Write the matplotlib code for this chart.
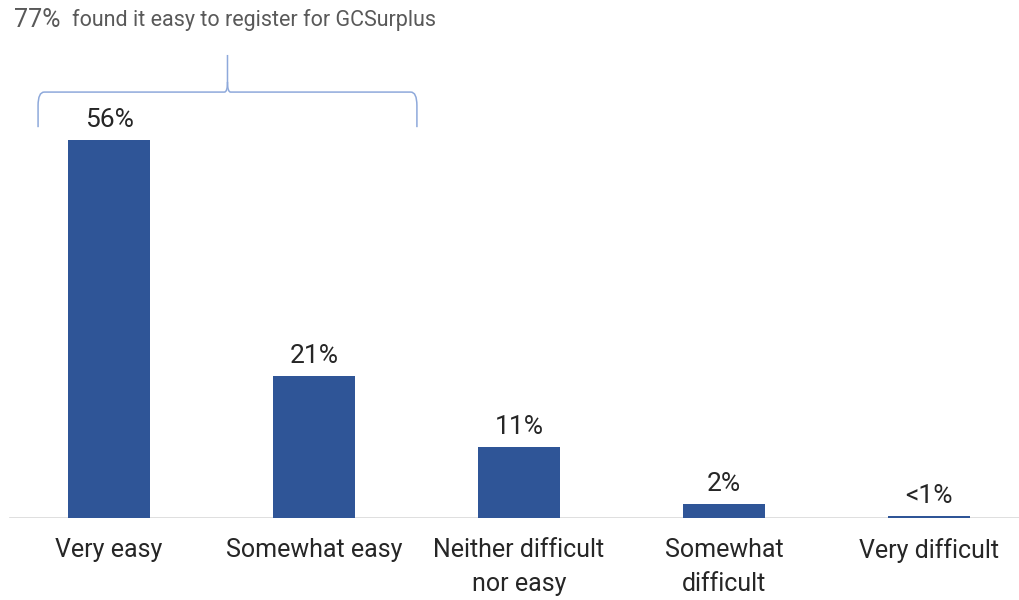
import matplotlib
matplotlib.use("Agg")
import matplotlib.pyplot as plt
import numpy as np
from matplotlib.path import Path
from matplotlib.patches import PathPatch

categories = ["Very easy", "Somewhat easy", "Neither difficult\nnor easy", "Somewhat\ndifficult", "Very difficult"]
values = [56, 21, 10.5, 2.1, 0.25]
value_labels = ["56%", "21%", "11%", "2%", "<1%"]
summary_pct = "77%"
summary_text = "found it easy to register for GCSurplus"

plt.rcParams['font.family'] = ['Roboto', 'DejaVu Sans']

fig = plt.figure(figsize=(10.19, 6.0), dpi=100)
ax = fig.add_axes([0, 82/600, 1, 518/600])
x = np.arange(len(categories))
bars = ax.bar(x, values, width=0.4, color="#2f5597", zorder=3)
ax.set_xlim(-109/205, (1019-109)/205)
ax.set_ylim(0, 518/6.75)
for s in ax.spines.values():
    s.set_visible(False)
ax.set_yticks([])
ax.set_xticks([])
ax.axhline(0, xmin=10/1019, xmax=1, color="#d9d9d9", lw=1.2, zorder=2)

for xi, v, lab in zip(x, values, value_labels):
    ax.text(xi, v + 1.2, lab, ha="center", va="bottom", fontsize=19, color="#262626")

for xi, cat in zip(x, categories):
    ax.text(xi, -3.0, cat, ha="center", va="top", fontsize=18, color="#262626",
            linespacing=1.5, clip_on=False)

# Bracket over first two bars
xl, xr = x[0] - 0.346, x[1] + 0.502
xc = (xl + xr) / 2
yb, ym, yt = 57.9, 63.1, 68.6
r = 0.03
verts = [(xl, yb), (xl, ym - 2), (xl, ym), (xl + r, ym),
         (xc - 0.015, ym), (xc, ym), (xc, ym + 1.5), (xc, yt)]
codes = [Path.MOVETO, Path.LINETO, Path.CURVE3, Path.CURVE3,
         Path.LINETO, Path.CURVE3, Path.CURVE3, Path.LINETO]
ax.add_patch(PathPatch(Path(verts, codes), fill=False, ec="#8ea9db", lw=1.1, clip_on=False))
verts2 = [(xr, yb), (xr, ym - 2), (xr, ym), (xr - r, ym),
          (xc + 0.015, ym), (xc, ym), (xc, ym + 1.5)]
codes2 = [Path.MOVETO, Path.LINETO, Path.CURVE3, Path.CURVE3,
          Path.LINETO, Path.CURVE3, Path.CURVE3]
ax.add_patch(PathPatch(Path(verts2, codes2), fill=False, ec="#8ea9db", lw=1.1, clip_on=False))

fig.text(14/1019, 1 - 20/600, summary_pct, fontsize=18, color="#595959", va="center", ha="left")
fig.text(72/1019, 1 - 20/600, summary_text, fontsize=15.5, color="#595959", va="center", ha="left")

fig.savefig("out.png", dpi=100, facecolor="white")
